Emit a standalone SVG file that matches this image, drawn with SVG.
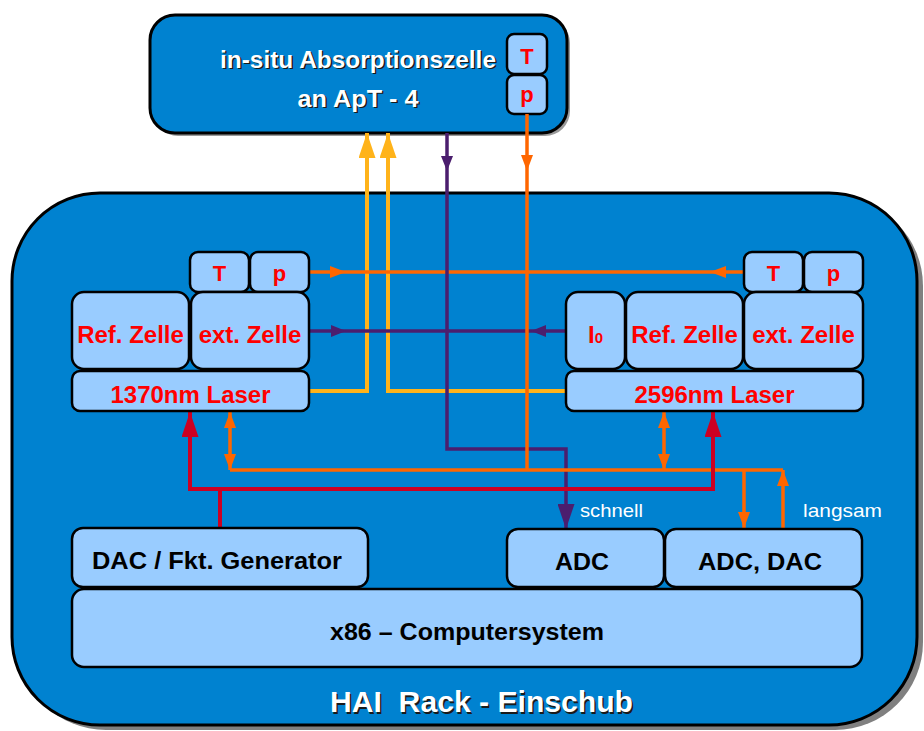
<svg xmlns="http://www.w3.org/2000/svg" width="924" height="731" viewBox="0 0 924 731">
<style>
text{font-family:"Liberation Sans",Arial,sans-serif;font-weight:bold;text-anchor:middle;white-space:pre}
.box{fill:#99CCFF;stroke:#000;stroke-width:2.5}
.rt{fill:#FF0000;font-size:24px}
.tp{fill:#FF0000;font-size:22px}
.bt{fill:#000;font-size:23px}
.wt{fill:#FFFFFF}
.ws{fill:#1A1A1A}
.lbl{fill:#FFFFFF;font-weight:normal;font-size:19px;text-anchor:start}
.y{fill:none;stroke:#FFB31A;stroke-width:4}
.o{fill:none;stroke:#FF6600;stroke-width:3.5}
.p{fill:none;stroke:#4B1E6E;stroke-width:3.5}
.r{fill:none;stroke:#CC0022;stroke-width:4}
</style>
<defs>
<marker id="ay" markerUnits="userSpaceOnUse" markerWidth="25" markerHeight="17" refX="25" refY="8.5" orient="auto"><path d="M0,0 L25,8.5 L0,17 z" fill="#FFB31A"/></marker>
<marker id="ar" markerUnits="userSpaceOnUse" markerWidth="25" markerHeight="17" refX="25" refY="8.5" orient="auto"><path d="M0,0 L25,8.5 L0,17 z" fill="#CC0022"/></marker>
<marker id="ap" markerUnits="userSpaceOnUse" markerWidth="25" markerHeight="17" refX="25" refY="8.5" orient="auto"><path d="M0,0 L25,8.5 L0,17 z" fill="#4B1E6E"/></marker>
<marker id="aps" markerUnits="userSpaceOnUse" markerWidth="15" markerHeight="12" refX="15" refY="6" orient="auto"><path d="M0,0 L15,6 L0,12 z" fill="#4B1E6E"/></marker>
<marker id="aos" markerUnits="userSpaceOnUse" markerWidth="16" markerHeight="12" refX="16" refY="6" orient="auto-start-reverse"><path d="M0,0 L16,6 L0,12 z" fill="#FF6600"/></marker>
</defs>

<g id="rack">
<rect x="18" y="198" width="905" height="532" rx="88" fill="#808080"/>
<rect x="12" y="193" width="905" height="532" rx="88" fill="#0082D0" stroke="#000" stroke-width="3"/>
<text x="483" y="713.5" class="ws" font-size="30" textLength="303" lengthAdjust="spacingAndGlyphs">HAI  Rack - Einschub</text>
<text x="481.5" y="712" class="wt" font-size="30" textLength="303" lengthAdjust="spacingAndGlyphs">HAI  Rack - Einschub</text>
</g>

<g id="zelle">
<rect x="153" y="18" width="417" height="118" rx="25" fill="#9A9A9A"/>
<rect x="150" y="15" width="417" height="118" rx="25" fill="#0082D0" stroke="#000" stroke-width="3"/>
<text x="359.5" y="69" class="ws" font-size="24" textLength="276" lengthAdjust="spacingAndGlyphs">in-situ Absorptionszelle</text>
<text x="358" y="67.5" class="wt" font-size="24" textLength="276" lengthAdjust="spacingAndGlyphs">in-situ Absorptionszelle</text>
<text x="359.5" y="108" class="ws" font-size="24" textLength="121" lengthAdjust="spacingAndGlyphs">an ApT - 4</text>
<text x="358" y="106.5" class="wt" font-size="24" textLength="121" lengthAdjust="spacingAndGlyphs">an ApT - 4</text>
</g>
<g id="zelle-T"><rect class="box" x="507" y="34" width="40" height="40" rx="7"/><text class="tp" x="527" y="64">T</text></g>
<g id="zelle-p"><rect class="box" x="507" y="75" width="40" height="39" rx="7"/><text class="tp" x="527" y="102">p</text></g>

<g id="connectors">
<path class="y" d="M309,391 H367 V133" marker-end="url(#ay)"/>
<path class="y" d="M566,391 H388 V133" marker-end="url(#ay)"/>
<path class="o" d="M309,272 H346" marker-end="url(#aos)"/>
<path class="o" d="M346,272 H710"/>
<path class="o" d="M744,272 H710" marker-end="url(#aos)"/>
<path class="p" d="M447,133 V171" marker-end="url(#aps)"/>
<path class="p" d="M447,171 V449 H566 V529" marker-end="url(#ap)"/>
<path class="p" d="M309,331 H346" marker-end="url(#aps)"/>
<path class="p" d="M346,331 H531"/>
<path class="p" d="M566,331 H531" marker-end="url(#aps)"/>
<path class="o" d="M527,114 V171" marker-end="url(#aos)"/>
<path class="o" d="M527,171 V470"/>
<path class="o" d="M230,470 H783"/>
<path class="o" d="M230,412 V470" marker-start="url(#aos)" marker-end="url(#aos)"/>
<path class="o" d="M664,412 V470" marker-start="url(#aos)" marker-end="url(#aos)"/>
<path class="o" d="M744,470 V528" marker-end="url(#aos)"/>
<path class="o" d="M783,529 V470" marker-end="url(#aos)"/>
<path class="r" d="M220,528 V489 H190 V412" marker-end="url(#ar)"/>
<path class="r" d="M220,489 H713 V412" marker-end="url(#ar)"/>
<text class="lbl" x="580" y="517" textLength="63" lengthAdjust="spacingAndGlyphs">schnell</text>
<text class="lbl" x="803" y="517" textLength="79" lengthAdjust="spacingAndGlyphs">langsam</text>
</g>

<g id="l-T"><rect class="box" x="190" y="252" width="59" height="40" rx="8"/><text class="tp" x="219.5" y="281">T</text></g>
<g id="l-p"><rect class="box" x="250" y="252" width="59" height="40" rx="8"/><text class="tp" x="279.5" y="281">p</text></g>
<g id="l-ref"><rect class="box" x="72" y="292" width="117" height="77" rx="12"/><text class="rt" x="130.5" y="343">Ref. Zelle</text></g>
<g id="l-ext"><rect class="box" x="191" y="292" width="118" height="77" rx="12"/><text class="rt" x="250" y="343">ext. Zelle</text></g>
<g id="l-laser"><rect class="box" x="72" y="371" width="237" height="40" rx="8"/><text class="rt" x="190.5" y="403">1370nm Laser</text></g>

<g id="r-T"><rect class="box" x="744" y="252" width="59" height="40" rx="8"/><text class="tp" x="773.5" y="281">T</text></g>
<g id="r-p"><rect class="box" x="804" y="252" width="59" height="40" rx="8"/><text class="tp" x="833.5" y="281">p</text></g>
<g id="r-i0"><rect class="box" x="566" y="292" width="59" height="77" rx="12"/><text class="rt" x="595.5" y="343">I<tspan font-size="15">0</tspan></text></g>
<g id="r-ref"><rect class="box" x="626" y="292" width="117" height="77" rx="12"/><text class="rt" x="684.5" y="343">Ref. Zelle</text></g>
<g id="r-ext"><rect class="box" x="744" y="292" width="119" height="77" rx="12"/><text class="rt" x="803.5" y="343">ext. Zelle</text></g>
<g id="r-laser"><rect class="box" x="566" y="371" width="297" height="40" rx="8"/><text class="rt" x="714.5" y="403">2596nm Laser</text></g>

<g id="dac"><rect class="box" x="72" y="528" width="296" height="59" rx="11"/><text class="bt" x="217" y="569" textLength="250" lengthAdjust="spacingAndGlyphs">DAC / Fkt. Generator</text></g>
<g id="adc"><rect class="box" x="507" y="529" width="157" height="58" rx="11"/><text class="bt" x="582" y="570" textLength="54" lengthAdjust="spacingAndGlyphs">ADC</text></g>
<g id="adcdac"><rect class="box" x="665" y="529" width="197" height="58" rx="11"/><text class="bt" x="760" y="570" textLength="124" lengthAdjust="spacingAndGlyphs">ADC, DAC</text></g>
<g id="x86"><rect class="box" x="72" y="589" width="790" height="78" rx="12"/><text class="bt" x="467" y="640" textLength="274" lengthAdjust="spacingAndGlyphs">x86 – Computersystem</text></g>
</svg>
